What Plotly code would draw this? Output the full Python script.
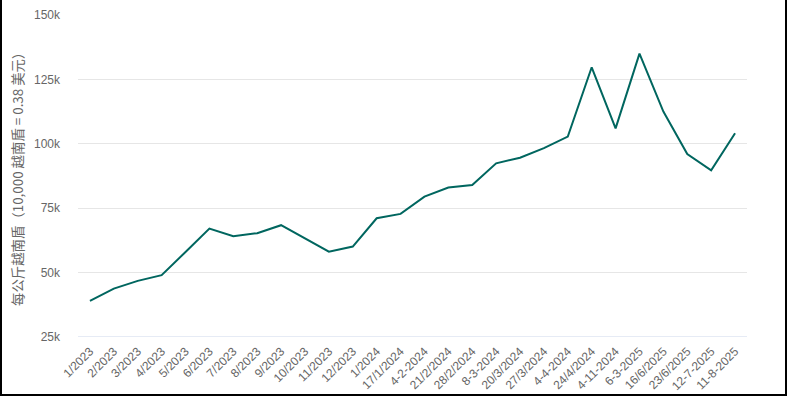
import plotly.graph_objects as go

categories = ["1/2023", "2/2023", "3/2023", "4/2023", "5/2023", "6/2023", "7/2023",
              "8/2023", "9/2023", "10/2023", "11/2023", "12/2023", "1/2024",
              "17/1/2024", "4-2-2024", "21/2/2024", "28/2/2024", "8-3-2024",
              "20/3/2024", "27/3/2024", "4-4-2024", "24/4/2024", "4-11-2024",
              "6-3-2025", "16/6/2025", "23/6/2025", "12-7-2025", "11-8-2025"]
prices = [39000, 43800, 46800, 49000, 58000, 67100, 64100, 65300, 68400, 63200,
          58100, 60100, 71100, 72800, 79500, 83000, 84000, 92400, 94600, 98300,
          102800, 129700, 106000, 135000, 112500, 96000, 89700, 104100]
y_tickvals = [25000, 50000, 75000, 100000, 125000, 150000]
y_ticktext = ["25k", "50k", "75k", "100k", "125k", "150k"]
y_title = "每公斤越南盾（10,000 越南盾 = 0.38 美元）"

W, H = 788, 397
L, R, T, B = 78, 41, 15, 60
pw, ph = W - L - R, H - T - B

fig = go.Figure()
fig.add_trace(go.Scatter(
    x=categories, y=prices, mode="lines",
    line=dict(color="#00665f", width=2),
    hoverinfo="x+y", showlegend=False,
))

font_family = "Liberation Sans, Arial, Noto Sans CJK SC, sans-serif"

fig.update_layout(
    width=W, height=H, autosize=False,
    margin=dict(l=L, r=R, t=T, b=B, pad=0),
    paper_bgcolor="white", plot_bgcolor="white",
    font=dict(family=font_family, size=12, color="#666666"),
    xaxis=dict(
        type="category", range=[-0.5, len(categories) - 0.5],
        tickangle=-45, showgrid=False, zeroline=False, automargin=False,
        showline=False, ticks="", tickfont=dict(size=12, color="#666666"),
        ticklabelstandoff=4,
        fixedrange=True,
    ),
    yaxis=dict(
        range=[25000, 150000], tickvals=y_tickvals, ticktext=y_ticktext,
        showgrid=True, gridcolor="#e6e6e6", gridwidth=1, zeroline=False,
        automargin=False,
        ticks="", tickfont=dict(size=12, color="#666666"),
        ticklabelstandoff=17,
        fixedrange=True,
    ),
)

# y-axis title placed as rotated text to the left of the tick labels
fig.add_annotation(
    text=y_title, xref="paper", yref="paper",
    x=(17 - L) / pw, y=0.5, xanchor="center", yanchor="middle",
    textangle=-90, showarrow=False,
    font=dict(size=13.4, color="#666666",
              family="Noto Sans CJK SC, Liberation Sans, sans-serif"),
)

# x-axis baseline (bluish line at the bottom)
fig.add_shape(type="line", xref="paper", yref="y", x0=0, x1=1,
              y0=25000, y1=25000, line=dict(color="#ccd6eb", width=1), layer="above")

# outer border around the chart
def px_x(p):
    return (p - L) / pw

def px_y(p):
    return (H - B - p) / ph

fig.add_shape(type="rect", xref="paper", yref="paper",
              x0=px_x(1), x1=px_x(786), y0=px_y(395), y1=px_y(-3),
              line=dict(color="black", width=2), fillcolor="rgba(0,0,0,0)", layer="above")

fig.write_html("out.html", config={"displayModeBar": False},
               post_script="document.body.style.margin='0';document.body.style.overflow='hidden';")
